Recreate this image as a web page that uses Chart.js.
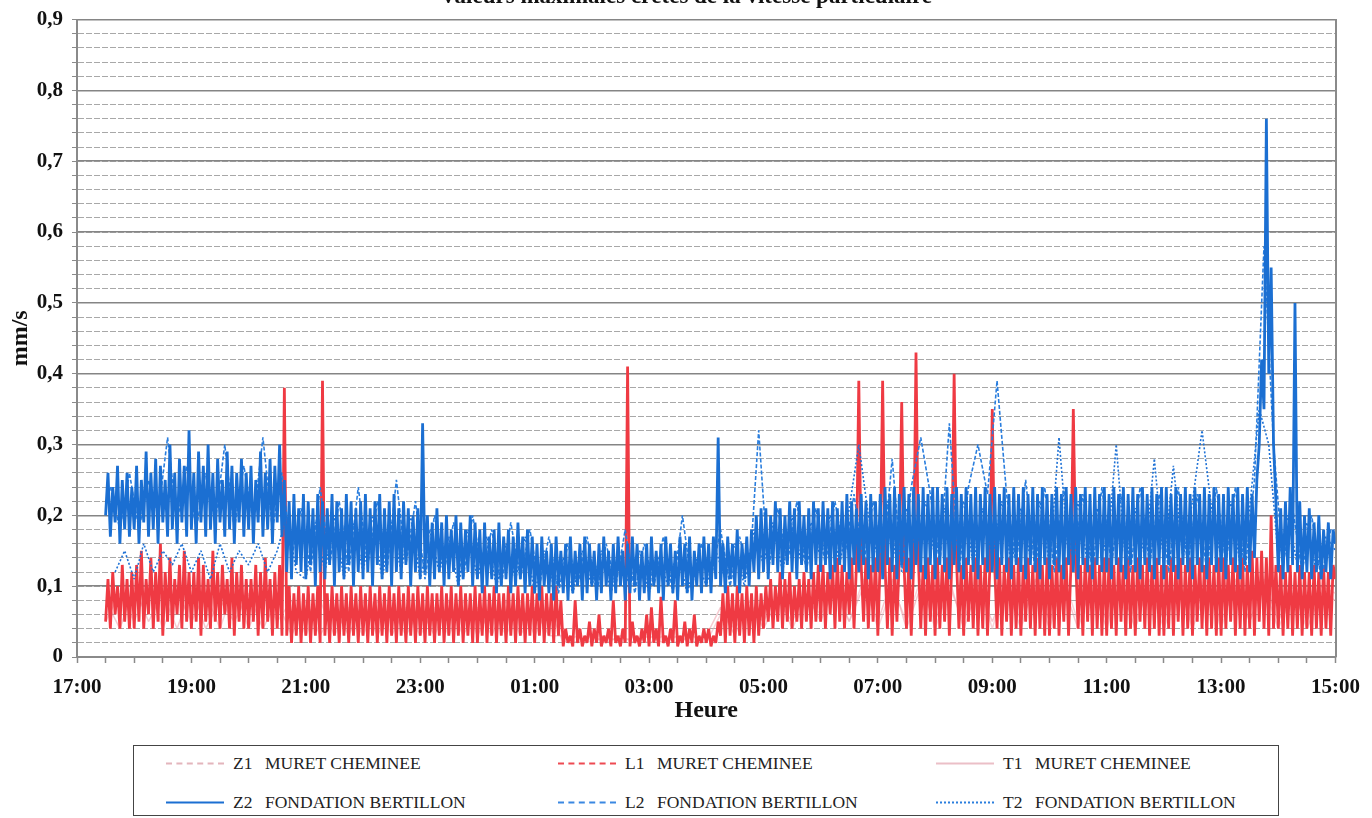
<!DOCTYPE html>
<html>
<head>
<meta charset="utf-8">
<script src="https://cdn.jsdelivr.net/npm/chart.js@4.4.1/dist/chart.umd.min.js"></script>
<style>
  html, body { margin: 0; padding: 0; background: #fff; width: 1372px; height: 818px; overflow: hidden; }
  #wrap { position: relative; width: 1372px; height: 818px; overflow: hidden; }
  #chart { position: absolute; left: 0; top: -17px; }
  #legend { position: absolute; left: 133px; top: 745px; width: 1146px; height: 71px; border: 1.5px solid #444; box-sizing: border-box; background: #fff; }
  .item { position: absolute; display: flex; align-items: center; transform: translateY(-50%); font-family: 'Liberation Serif', serif; font-size: 17.5px; color: #222; white-space: nowrap; }
  .sample { width: 58px; height: 0; margin-right: 9px; }
  .code { width: 32px; }
</style>
</head>
<body>
<div id="wrap">
  <canvas id="chart" width="1372" height="747"></canvas>
  <div id="legend"></div>
</div>
<script>
// valeurs crêtes (mm/s)
// x : heures depuis 17:00, un point toutes les N minutes

var hourLabels = ['17:00', '19:00', '21:00', '23:00', '01:00', '03:00', '05:00', '07:00', '09:00', '11:00', '13:00', '15:00'];
var yLabels = ['0', '0,1', '0,2', '0,3', '0,4', '0,5', '0,6', '0,7', '0,8', '0,9'];

// Z1 MURET CHEMINEE - départ 17:30, pas 15 min
var z1Start = 0.5, z1Step = 15;
var z1Values = [0.08, 0.04,
  0.10, 0.05, 0.09, 0.04,   0.10, 0.04, 0.08, 0.05,   0.09, 0.04, 0.08, 0.03,
  0.08, 0.03, 0.07, 0.03,   0.08, 0.03, 0.07, 0.03,   0.07, 0.03, 0.08, 0.03,
  0.07, 0.03, 0.08, 0.03,   0.07, 0.03, 0.03, 0.02,   0.03, 0.02, 0.03, 0.02,
  0.03, 0.02, 0.03, 0.02,   0.03, 0.07, 0.03, 0.08,   0.04, 0.08, 0.05, 0.09,
  0.05, 0.10, 0.05, 0.10,   0.05, 0.11, 0.04, 0.10,   0.05, 0.11, 0.04, 0.10,
  0.05, 0.10, 0.04, 0.11,   0.05, 0.10, 0.04, 0.11,   0.05, 0.10, 0.04, 0.11,
  0.05, 0.11, 0.04, 0.10,   0.05, 0.10, 0.05, 0.11,   0.05, 0.10, 0.04, 0.09,
  0.08];

// L1 MURET CHEMINEE - départ 17:30, pas 2,5 min (une ligne = une heure)
var l1Start = 0.5, l1Step = 2.5;
var l1Values = [
  0.05, 0.11, 0.04, 0.12, 0.06, 0.10, 0.04, 0.13, 0.05, 0.11, 0.04, 0.12,
  0.04, 0.13, 0.05, 0.15, 0.04, 0.11, 0.06, 0.14, 0.04, 0.12, 0.05, 0.16, 0.03, 0.12, 0.05, 0.14, 0.04, 0.11, 0.06, 0.13, 0.04, 0.15, 0.05, 0.12,
  0.04, 0.12, 0.05, 0.14, 0.03, 0.13, 0.05, 0.11, 0.04, 0.15, 0.05, 0.12, 0.04, 0.13, 0.06, 0.11, 0.04, 0.14, 0.03, 0.12, 0.05, 0.13, 0.04, 0.11,
  0.04, 0.11, 0.05, 0.13, 0.03, 0.12, 0.04, 0.14, 0.05, 0.11, 0.03, 0.12, 0.04, 0.13, 0.03, 0.38, 0.03, 0.10, 0.02, 0.09, 0.03, 0.10, 0.02, 0.09,
  0.03, 0.10, 0.02, 0.09, 0.03, 0.10, 0.02, 0.39, 0.03, 0.09, 0.02, 0.10, 0.03, 0.09, 0.02, 0.10, 0.03, 0.09, 0.02, 0.10, 0.03, 0.09, 0.02, 0.10,
  0.03, 0.09, 0.02, 0.10, 0.03, 0.09, 0.02, 0.10, 0.03, 0.09, 0.02, 0.10, 0.03, 0.09, 0.02, 0.10, 0.03, 0.09, 0.02, 0.10, 0.03, 0.09, 0.02, 0.10,
  0.03, 0.09, 0.02, 0.10, 0.03, 0.09, 0.02, 0.09, 0.03, 0.10, 0.02, 0.09, 0.03, 0.10, 0.02, 0.09, 0.03, 0.10, 0.02, 0.09, 0.03, 0.09, 0.02, 0.10,
  0.02, 0.09, 0.03, 0.10, 0.02, 0.09, 0.03, 0.10, 0.02, 0.09, 0.03, 0.09, 0.02, 0.10, 0.03, 0.09, 0.02, 0.10, 0.03, 0.09, 0.02, 0.09, 0.03, 0.10,
  0.02, 0.09, 0.03, 0.10, 0.02, 0.09, 0.03, 0.09, 0.02, 0.10, 0.03, 0.08, 0.015, 0.04, 0.02, 0.03, 0.015, 0.08, 0.02, 0.04, 0.015, 0.03, 0.02, 0.05,
  0.015, 0.04, 0.02, 0.06, 0.015, 0.03, 0.02, 0.04, 0.015, 0.08, 0.02, 0.03, 0.015, 0.04, 0.02, 0.41, 0.015, 0.05, 0.02, 0.03, 0.015, 0.04, 0.02, 0.06,
  0.015, 0.07, 0.02, 0.04, 0.015, 0.085, 0.02, 0.03, 0.015, 0.04, 0.02, 0.08, 0.015, 0.03, 0.02, 0.05, 0.015, 0.04, 0.02, 0.06, 0.015, 0.03, 0.02, 0.04,
  0.02, 0.04, 0.015, 0.03, 0.02, 0.05, 0.03, 0.09, 0.02, 0.10, 0.03, 0.09, 0.02, 0.10, 0.03, 0.09, 0.02, 0.10, 0.03, 0.09, 0.02, 0.10, 0.03, 0.09,
  0.04, 0.10, 0.05, 0.11, 0.04, 0.10, 0.05, 0.12, 0.04, 0.11, 0.05, 0.12, 0.04, 0.10, 0.05, 0.11, 0.04, 0.12, 0.05, 0.11, 0.04, 0.12, 0.05, 0.13,
  0.05, 0.13, 0.04, 0.12, 0.06, 0.13, 0.04, 0.14, 0.05, 0.13, 0.04, 0.12, 0.06, 0.14, 0.04, 0.13, 0.39, 0.13, 0.05, 0.14, 0.04, 0.13, 0.05, 0.14,
  0.03, 0.14, 0.39, 0.13, 0.04, 0.14, 0.03, 0.13, 0.05, 0.14, 0.36, 0.13, 0.04, 0.14, 0.03, 0.13, 0.43, 0.14, 0.04, 0.13, 0.03, 0.14, 0.05, 0.13,
  0.03, 0.14, 0.04, 0.13, 0.05, 0.14, 0.03, 0.13, 0.40, 0.14, 0.04, 0.13, 0.03, 0.14, 0.05, 0.13, 0.04, 0.14, 0.03, 0.13, 0.04, 0.14, 0.03, 0.13,
  0.35, 0.13, 0.04, 0.14, 0.03, 0.13, 0.05, 0.14, 0.03, 0.13, 0.04, 0.14, 0.03, 0.13, 0.05, 0.14, 0.04, 0.13, 0.03, 0.14, 0.04, 0.13, 0.03, 0.14,
  0.03, 0.13, 0.04, 0.14, 0.03, 0.13, 0.05, 0.14, 0.03, 0.13, 0.35, 0.14, 0.04, 0.13, 0.03, 0.14, 0.05, 0.13, 0.03, 0.14, 0.04, 0.13, 0.03, 0.14,
  0.03, 0.14, 0.04, 0.13, 0.03, 0.14, 0.05, 0.13, 0.03, 0.14, 0.04, 0.13, 0.03, 0.14, 0.05, 0.13, 0.04, 0.14, 0.03, 0.13, 0.04, 0.14, 0.03, 0.13,
  0.03, 0.13, 0.04, 0.14, 0.03, 0.13, 0.05, 0.14, 0.03, 0.13, 0.04, 0.14, 0.03, 0.13, 0.05, 0.14, 0.04, 0.13, 0.03, 0.14, 0.04, 0.13, 0.03, 0.14,
  0.03, 0.14, 0.04, 0.13, 0.05, 0.14, 0.03, 0.13, 0.04, 0.14, 0.03, 0.13, 0.04, 0.15, 0.03, 0.14, 0.05, 0.15, 0.04, 0.14, 0.03, 0.20, 0.04, 0.13,
  0.04, 0.13, 0.03, 0.12, 0.04, 0.13, 0.03, 0.12, 0.04, 0.13, 0.03, 0.12, 0.04, 0.12, 0.03, 0.13, 0.04, 0.12, 0.03, 0.13, 0.04, 0.12, 0.03, 0.13,
  0.11];

// T1 MURET CHEMINEE - départ 17:30, pas 15 min
var t1Start = 0.5, t1Step = 15;
var t1Values = [0.05, 0.09,
  0.05, 0.10, 0.04, 0.09,   0.05, 0.09, 0.04, 0.10,   0.04, 0.09, 0.05, 0.08,
  0.03, 0.08, 0.03, 0.07,   0.03, 0.08, 0.03, 0.07,   0.03, 0.07, 0.03, 0.08,
  0.03, 0.07, 0.03, 0.08,   0.03, 0.07, 0.02, 0.03,   0.02, 0.03, 0.02, 0.03,
  0.02, 0.03, 0.02, 0.03,   0.02, 0.06, 0.04, 0.07,   0.05, 0.09, 0.04, 0.08,
  0.06, 0.09, 0.05, 0.11,   0.04, 0.10, 0.05, 0.11,   0.04, 0.10, 0.05, 0.11,
  0.04, 0.11, 0.05, 0.10,   0.04, 0.11, 0.05, 0.10,   0.04, 0.11, 0.05, 0.10,
  0.04, 0.10, 0.05, 0.11,   0.04, 0.11, 0.05, 0.10,   0.04, 0.09, 0.05, 0.10,
  0.09];

// Z2 FONDATION BERTILLON - départ 17:30, pas 2,5 min (une ligne = une heure)
var z2Start = 0.5, z2Step = 2.5;
var z2Values = [
  0.20, 0.26, 0.17, 0.24, 0.19, 0.27, 0.16, 0.25, 0.18, 0.26, 0.17, 0.24,
  0.18, 0.27, 0.16, 0.25, 0.19, 0.29, 0.17, 0.26, 0.18, 0.28, 0.16, 0.27, 0.19, 0.25, 0.17, 0.30, 0.18, 0.26, 0.16, 0.28, 0.19, 0.27, 0.17, 0.32,
  0.18, 0.26, 0.16, 0.29, 0.19, 0.27, 0.17, 0.30, 0.18, 0.26, 0.16, 0.28, 0.19, 0.25, 0.17, 0.29, 0.18, 0.27, 0.16, 0.26, 0.19, 0.28, 0.17, 0.26,
  0.18, 0.27, 0.16, 0.25, 0.19, 0.29, 0.17, 0.26, 0.18, 0.28, 0.16, 0.27, 0.19, 0.30, 0.17, 0.25, 0.12, 0.22, 0.11, 0.23, 0.13, 0.21, 0.12, 0.23,
  0.11, 0.22, 0.13, 0.21, 0.10, 0.23, 0.12, 0.22, 0.11, 0.21, 0.13, 0.23, 0.10, 0.22, 0.12, 0.21, 0.11, 0.23, 0.13, 0.22, 0.10, 0.21, 0.12, 0.22,
  0.11, 0.23, 0.12, 0.21, 0.10, 0.22, 0.13, 0.23, 0.11, 0.21, 0.12, 0.22, 0.10, 0.23, 0.12, 0.21, 0.11, 0.22, 0.13, 0.21, 0.10, 0.20, 0.12, 0.21,
  0.11, 0.33, 0.12, 0.20, 0.10, 0.19, 0.11, 0.21, 0.12, 0.19, 0.10, 0.20, 0.11, 0.18, 0.12, 0.20, 0.10, 0.19, 0.11, 0.18, 0.12, 0.20, 0.10, 0.19,
  0.11, 0.18, 0.09, 0.19, 0.10, 0.17, 0.11, 0.18, 0.09, 0.19, 0.10, 0.17, 0.11, 0.18, 0.09, 0.17, 0.10, 0.19, 0.11, 0.17, 0.09, 0.18, 0.10, 0.17,
  0.09, 0.16, 0.08, 0.17, 0.10, 0.15, 0.09, 0.16, 0.08, 0.17, 0.10, 0.15, 0.09, 0.16, 0.08, 0.17, 0.09, 0.15, 0.10, 0.16, 0.08, 0.17, 0.09, 0.16,
  0.10, 0.15, 0.08, 0.16, 0.09, 0.17, 0.10, 0.15, 0.08, 0.16, 0.09, 0.17, 0.10, 0.15, 0.08, 0.16, 0.09, 0.17, 0.10, 0.16, 0.08, 0.15, 0.09, 0.16,
  0.08, 0.17, 0.10, 0.15, 0.09, 0.16, 0.08, 0.17, 0.10, 0.16, 0.09, 0.15, 0.08, 0.17, 0.10, 0.16, 0.09, 0.17, 0.08, 0.15, 0.10, 0.16, 0.09, 0.17,
  0.10, 0.16, 0.09, 0.17, 0.11, 0.31, 0.10, 0.16, 0.09, 0.17, 0.11, 0.16, 0.10, 0.18, 0.09, 0.16, 0.11, 0.17, 0.10, 0.18, 0.12, 0.20, 0.11, 0.21,
  0.12, 0.21, 0.11, 0.20, 0.13, 0.22, 0.12, 0.21, 0.11, 0.20, 0.13, 0.22, 0.12, 0.21, 0.11, 0.22, 0.13, 0.20, 0.12, 0.21, 0.11, 0.22, 0.13, 0.21,
  0.12, 0.22, 0.13, 0.21, 0.11, 0.22, 0.12, 0.21, 0.13, 0.22, 0.12, 0.23, 0.11, 0.22, 0.13, 0.21, 0.12, 0.23, 0.13, 0.22, 0.11, 0.23, 0.12, 0.22,
  0.12, 0.23, 0.11, 0.24, 0.13, 0.23, 0.12, 0.24, 0.11, 0.23, 0.13, 0.24, 0.12, 0.23, 0.11, 0.24, 0.13, 0.23, 0.12, 0.24, 0.11, 0.23, 0.13, 0.24,
  0.11, 0.24, 0.13, 0.23, 0.12, 0.24, 0.11, 0.23, 0.13, 0.24, 0.12, 0.23, 0.11, 0.24, 0.13, 0.23, 0.12, 0.24, 0.11, 0.23, 0.13, 0.24, 0.12, 0.23,
  0.12, 0.24, 0.11, 0.23, 0.13, 0.24, 0.12, 0.23, 0.11, 0.24, 0.13, 0.23, 0.12, 0.24, 0.11, 0.23, 0.13, 0.24, 0.12, 0.23, 0.11, 0.24, 0.13, 0.23,
  0.11, 0.23, 0.13, 0.24, 0.12, 0.23, 0.11, 0.24, 0.13, 0.23, 0.12, 0.24, 0.11, 0.23, 0.13, 0.24, 0.12, 0.23, 0.11, 0.24, 0.13, 0.23, 0.12, 0.24,
  0.12, 0.23, 0.11, 0.24, 0.13, 0.23, 0.12, 0.24, 0.11, 0.23, 0.13, 0.24, 0.12, 0.23, 0.11, 0.24, 0.13, 0.23, 0.12, 0.24, 0.11, 0.23, 0.13, 0.24,
  0.11, 0.24, 0.13, 0.23, 0.12, 0.24, 0.11, 0.23, 0.13, 0.24, 0.12, 0.23, 0.11, 0.24, 0.13, 0.23, 0.12, 0.24, 0.11, 0.23, 0.13, 0.24, 0.12, 0.23,
  0.12, 0.23, 0.11, 0.24, 0.13, 0.23, 0.12, 0.24, 0.11, 0.23, 0.13, 0.24, 0.12, 0.23, 0.14, 0.25, 0.30, 0.42, 0.35, 0.76, 0.40, 0.55, 0.30, 0.22,
  0.12, 0.21, 0.11, 0.22, 0.12, 0.24, 0.13, 0.50, 0.12, 0.22, 0.11, 0.20, 0.12, 0.21, 0.11, 0.19, 0.12, 0.20, 0.11, 0.18, 0.12, 0.19, 0.11, 0.18,
  0.16];

// L2 FONDATION BERTILLON - départ 17:35, pas 10 min
var l2Start = 35 / 60, l2Step = 10;
var l2Values = [0.24, 0.18, 0.26,
  0.18, 0.25, 0.20, 0.31, 0.19, 0.27,   0.18, 0.26, 0.19, 0.30, 0.18, 0.27,
  0.19, 0.31, 0.18, 0.26, 0.14, 0.21,   0.12, 0.24, 0.13, 0.22, 0.12, 0.24,
  0.13, 0.22, 0.12, 0.25, 0.13, 0.22,   0.11, 0.20, 0.12, 0.19, 0.11, 0.20,
  0.12, 0.18, 0.10, 0.19, 0.11, 0.18,   0.10, 0.17, 0.09, 0.16, 0.10, 0.17,
  0.09, 0.16, 0.10, 0.18, 0.09, 0.16,   0.10, 0.17, 0.09, 0.20, 0.10, 0.16,
  0.11, 0.18, 0.10, 0.17, 0.11, 0.32,   0.12, 0.21, 0.13, 0.22, 0.12, 0.21,
  0.13, 0.22, 0.14, 0.23, 0.13, 0.22,   0.13, 0.28, 0.12, 0.24, 0.31, 0.23,
  0.13, 0.33, 0.12, 0.24, 0.30, 0.23,   0.39, 0.23, 0.13, 0.25, 0.12, 0.24,
  0.12, 0.24, 0.13, 0.23, 0.12, 0.24,   0.13, 0.23, 0.12, 0.24, 0.13, 0.23,
  0.12, 0.24, 0.13, 0.23, 0.12, 0.24,   0.13, 0.24, 0.12, 0.25, 0.58, 0.30,
  0.13, 0.21, 0.12, 0.20, 0.11, 0.18];

// T2 FONDATION BERTILLON - départ 17:40, pas 10 min
var t2Start = 40 / 60, t2Step = 10;
var t2Values = [0.12, 0.15,
  0.11, 0.16, 0.12, 0.15, 0.13, 0.16,   0.12, 0.15, 0.11, 0.16, 0.12, 0.15,
  0.13, 0.16, 0.12, 0.15, 0.20, 0.12,   0.11, 0.19, 0.12, 0.20, 0.11, 0.19,
  0.12, 0.20, 0.11, 0.19, 0.12, 0.20,   0.11, 0.18, 0.12, 0.17, 0.10, 0.18,
  0.11, 0.17, 0.10, 0.16, 0.11, 0.17,   0.09, 0.15, 0.10, 0.14, 0.09, 0.15,
  0.10, 0.15, 0.09, 0.14, 0.10, 0.15,   0.09, 0.14, 0.10, 0.15, 0.09, 0.14,
  0.10, 0.15, 0.11, 0.16, 0.10, 0.18,   0.13, 0.19, 0.12, 0.20, 0.13, 0.19,
  0.14, 0.20, 0.13, 0.21, 0.30, 0.20,   0.14, 0.22, 0.13, 0.21, 0.15, 0.22,
  0.14, 0.21, 0.15, 0.22, 0.13, 0.21,   0.14, 0.22, 0.13, 0.21, 0.14, 0.22,
  0.13, 0.31, 0.14, 0.22, 0.13, 0.21,   0.14, 0.30, 0.13, 0.21, 0.14, 0.28,
  0.13, 0.27, 0.14, 0.22, 0.32, 0.21,   0.14, 0.22, 0.13, 0.21, 0.35, 0.30,
  0.14, 0.20, 0.13, 0.19, 0.12, 0.17,
  0.15];

function toPoints(values, start, stepMin) {
    return values.map(function (v, i) { return { x: start + i * stepMin / 60, y: v }; });
}

var serif = "'Liberation Serif', 'Times New Roman', serif";

var datasets = [
    { label: 'Z1 MURET CHEMINEE', data: toPoints(z1Values, z1Start, z1Step), borderColor: 'rgba(236,150,162,0.5)', borderWidth: 1.5, order: 6, legendLine: '2px dashed rgba(215,150,160,0.7)' },
    { label: 'L1 MURET CHEMINEE', data: toPoints(l1Values, l1Start, l1Step), borderColor: '#ef3a43', borderWidth: 2.8, order: 4, legendLine: '2px dashed #ee4a52' },
    { label: 'T1 MURET CHEMINEE', data: toPoints(t1Values, t1Start, t1Step), borderColor: 'rgba(240,170,180,0.5)', borderWidth: 1.5, order: 5, legendLine: '2px solid rgba(230,175,185,0.8)' },
    { label: 'Z2 FONDATION BERTILLON', data: toPoints(z2Values, z2Start, z2Step), borderColor: '#1b6fd2', borderWidth: 2.8, order: 1, legendLine: '2px solid #1b6fd2' },
    { label: 'L2 FONDATION BERTILLON', data: toPoints(l2Values, l2Start, l2Step), borderColor: '#2a7ede', borderWidth: 1.6, borderDash: [4, 2], order: 2, legendLine: '2px dashed #3a88e2' },
    { label: 'T2 FONDATION BERTILLON', data: toPoints(t2Values, t2Start, t2Step), borderColor: '#1f72d6', borderWidth: 1.6, borderDash: [2, 2], order: 3, legendLine: '2px dotted #2a7ede' }
];

function isMultiple(v, step) {
    var k = Math.round(v / step);
    return Math.abs(v / step - k) < 1e-6 ? k : -1;
}

var ctx = document.getElementById('chart').getContext('2d');
var chart = new Chart(ctx, {
    type: 'line',
    data: { datasets: datasets },
    options: {
        responsive: false,
        animation: false,
        parsing: false,
        elements: { point: { radius: 0 }, line: { tension: 0, borderJoinStyle: 'bevel' } },
        layout: { padding: { left: 0, right: 0, top: 0, bottom: 0 } },
        plugins: {
            legend: { display: false },
            tooltip: { enabled: false },
            title: {
                display: true,
                text: 'Valeurs maximales crêtes de la vitesse particulaire',
                color: '#111',
                font: { family: serif, size: 23, weight: 'bold' },
                padding: { top: 0, bottom: 9 }
            }
        },
        scales: {
            x: {
                type: 'linear',
                min: 0,
                max: 22,
                afterFit: function (scale) { scale.height = 73; },
                ticks: {
                    stepSize: 0.5,
                    autoSkip: false,
                    maxRotation: 0,
                    padding: 12,
                    color: '#111',
                    font: { family: serif, size: 21, weight: 'bold' },
                    callback: function (v) {
                        var k = isMultiple(v, 2);
                        return k >= 0 ? hourLabels[k] : '';
                    }
                },
                grid: { drawOnChartArea: false, drawTicks: true, tickLength: 6, tickColor: '#8a8a8a', tickWidth: 1.5 },
                border: { color: '#8a8a8a', width: 2 },
                title: {
                    display: true,
                    text: 'Heure',
                    color: '#111',
                    font: { family: serif, size: 24, weight: 'bold' },
                    padding: { top: 0, bottom: 5 }
                }
            },
            y: {
                min: 0,
                max: 0.9,
                afterFit: function (scale) { scale.width = 77; },
                ticks: {
                    stepSize: 0.02,
                    autoSkip: false,
                    padding: 9,
                    color: '#111',
                    font: { family: serif, size: 21, weight: 'bold' },
                    callback: function (v) {
                        var k = isMultiple(v, 0.1);
                        return k >= 0 ? yLabels[k] : '';
                    }
                },
                grid: { color: '#a8a8a8', lineWidth: 1, tickLength: 5, tickColor: '#8a8a8a' },
                border: { color: '#8a8a8a', width: 2, dash: [6, 2] },
                title: {
                    display: true,
                    text: 'mm/s',
                    color: '#111',
                    font: { family: serif, size: 24, weight: 'bold' },
                    padding: { top: 6, bottom: 0 }
                }
            },
            y2: {
                position: 'right',
                min: 0,
                max: 0.9,
                afterFit: function (scale) { scale.width = 36; },
                ticks: { display: false, stepSize: 0.1 },
                grid: { color: '#858585', lineWidth: 1.5, drawTicks: false },
                border: { color: '#8a8a8a', width: 2 }
            }
        }
    }
});

// légende en bas, 3 colonnes x 2 lignes
var legendBox = document.getElementById('legend');
var colLeft = [32, 424, 802];
var rowTop = [17, 56];
chart.data.datasets.forEach(function (ds, i) {
    var item = document.createElement('div');
    item.className = 'item';
    item.style.left = colLeft[i % 3] + 'px';
    item.style.top = rowTop[Math.floor(i / 3)] + 'px';
    var sample = document.createElement('span');
    sample.className = 'sample';
    sample.style.borderTop = ds.legendLine;
    var parts = ds.label.split(' ');
    var code = document.createElement('span');
    code.className = 'code';
    code.textContent = parts[0];
    var name = document.createElement('span');
    name.textContent = parts.slice(1).join(' ');
    item.appendChild(sample);
    item.appendChild(code);
    item.appendChild(name);
    legendBox.appendChild(item);
});
</script>
</body>
</html>
